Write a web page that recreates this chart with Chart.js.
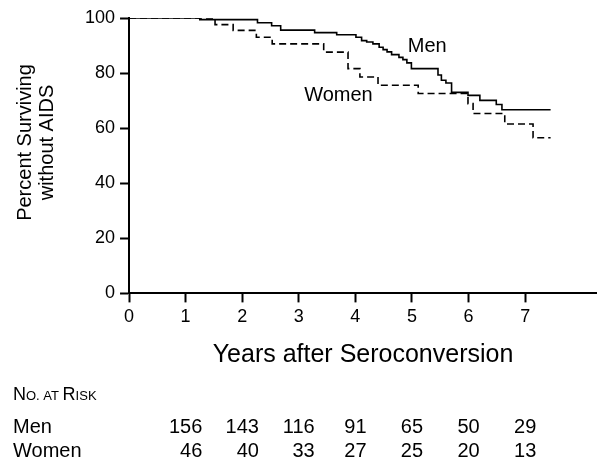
<!DOCTYPE html>
<html>
<head>
<meta charset="utf-8">
<script src="https://cdn.jsdelivr.net/npm/chart.js@4.4.1/dist/chart.umd.min.js"></script>
<style>
  html, body { margin: 0; padding: 0; background: #fff; }
  #wrap { width: 597px; height: 458px; }
</style>
</head>
<body>
<div id="wrap"><canvas id="myChart"></canvas></div>
<script>
// Kaplan-Meier steps: time (years) of each drop and the new percent surviving
const menYears   = [0, 1.25, 2.27, 2.52, 2.68, 3.28, 3.67, 4.01, 4.11, 4.20, 4.31, 4.42, 4.49, 4.56, 4.64, 4.77, 4.84, 4.91, 4.99, 5.46, 5.52, 5.60, 5.70, 5.99, 6.20, 6.49, 6.59, 7.45];
const menPct     = [100, 99.4, 98.3, 97.2, 95.6, 94.7, 93.9, 93.0, 91.8, 91.3, 90.6, 89.4, 88.5, 87.7, 86.7, 85.7, 84.9, 83.7, 81.6, 79.3, 77.4, 76.4, 73.0, 71.9, 70.1, 68.6, 66.7, 66.7];
const womenYears = [0, 1.52, 1.84, 2.25, 2.53, 3.44, 3.87, 4.08, 4.40, 5.11, 5.99, 6.08, 6.64, 7.14, 7.45];
const womenPct   = [100, 97.6, 95.5, 93.0, 90.6, 87.6, 81.6, 78.6, 75.6, 72.6, 68.9, 65.3, 61.5, 56.5, 56.5];

// number at risk table
const riskYears  = [1, 2, 3, 4, 5, 6, 7];
const riskMen    = [156, 143, 116, 91, 65, 50, 29];
const riskWomen  = [46, 40, 33, 27, 25, 20, 13];

const FONT = "'Liberation Sans', Arial, Helvetica, sans-serif";

const extras = {
    id: 'extras',
    afterDraw(chart) {
        const ctx = chart.ctx;
        const xs = chart.scales.x, ys = chart.scales.y;
        ctx.save();
        ctx.fillStyle = '#000';

        // y axis title (two lines, rotated)
        ctx.font = '20px ' + FONT;
        ctx.textAlign = 'center';
        ctx.textBaseline = 'middle';
        [['Percent Surviving', 25], ['without AIDS', 47]].forEach(([t, x]) => {
            ctx.save();
            ctx.translate(x, 142.5);
            ctx.rotate(-Math.PI / 2);
            ctx.fillText(t, 0, 0);
            ctx.restore();
        });

        // curve labels
        ctx.fillText('Men', xs.getPixelForValue(5.27), ys.getPixelForValue(89.7));
        ctx.fillText('Women', xs.getPixelForValue(3.70), ys.getPixelForValue(71.9));

        // "No. at Risk" in small caps
        ctx.textAlign = 'left';
        ctx.textBaseline = 'alphabetic';
        let x = 13;
        [['N', 18], ['O. AT ', 13], ['R', 18], ['ISK', 13]].forEach(([t, s]) => {
            ctx.font = s + 'px ' + FONT;
            ctx.fillText(t, x, 400);
            x += ctx.measureText(t).width;
        });

        // table rows
        ctx.font = '20px ' + FONT;
        ctx.fillText('Men', 13, 433);
        ctx.fillText('Women', 13, 457);
        ctx.textAlign = 'right';
        riskYears.forEach((yr, i) => {
            const w = Math.max(ctx.measureText(String(riskMen[i])).width,
                               ctx.measureText(String(riskWomen[i])).width);
            const right = xs.getPixelForValue(yr) + w / 2;
            ctx.fillText(String(riskMen[i]), right, 433);
            ctx.fillText(String(riskWomen[i]), right, 457);
        });
        ctx.restore();
    }
};

const ctx = document.getElementById('myChart').getContext('2d');
new Chart(ctx, {
    type: 'line',
    data: {
        datasets: [{
            label: 'Men',
            data: menYears.map((t, i) => ({ x: t, y: menPct[i] })),
            borderColor: '#000',
            borderWidth: 1.6,
            stepped: true,
            pointRadius: 0,
            fill: false
        }, {
            label: 'Women',
            data: womenYears.map((t, i) => ({ x: t, y: womenPct[i] })),
            borderColor: '#000',
            borderWidth: 1.6,
            borderDash: [7, 4],
            stepped: true,
            pointRadius: 0,
            fill: false
        }]
    },
    options: {
        responsive: true,
        maintainAspectRatio: false,
        animation: false,
        layout: { padding: { left: 80, top: 18, right: 0, bottom: 88 } },
        plugins: {
            legend: { display: false },
            tooltip: { enabled: false }
        },
        scales: {
            x: {
                type: 'linear',
                min: 0,
                max: 8.27,
                afterBuildTicks: s => { s.ticks = s.ticks.filter(t => t.value <= 7); },
                ticks: { stepSize: 1, color: '#000', padding: 4, font: { size: 18, family: FONT } },
                grid: { drawOnChartArea: false, color: '#000', tickLength: 9, tickWidth: 2 },
                border: { color: '#000', width: 2 },
                title: {
                    display: true,
                    text: 'Years after Seroconversion',
                    color: '#000',
                    padding: { top: 8, bottom: 0 },
                    font: { size: 25, family: FONT }
                }
            },
            y: {
                min: 0,
                max: 100,
                ticks: { stepSize: 20, color: '#000', padding: 5, font: { size: 18, family: FONT } },
                grid: { drawOnChartArea: false, color: '#000', tickLength: 9, tickWidth: 2 },
                border: { color: '#000', width: 2 }
            }
        }
    },
    plugins: [extras]
});
</script>
</body>
</html>
